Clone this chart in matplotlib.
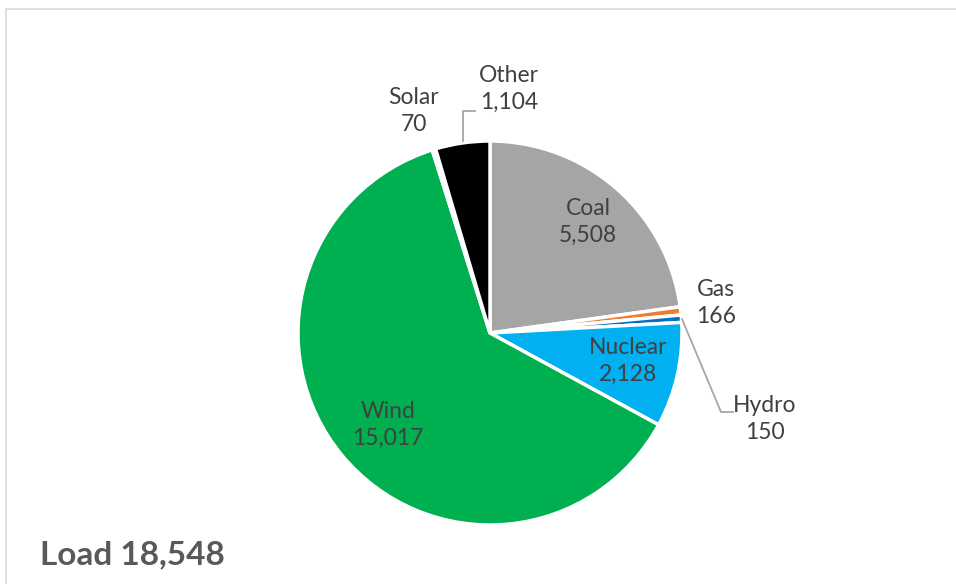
import matplotlib.pyplot as plt
from matplotlib.patches import Rectangle

# data
sources = ['Coal', 'Gas', 'Hydro', 'Nuclear', 'Wind', 'Solar', 'Other']
values = [5508, 166, 150, 2128, 15017, 70, 1104]
colors = ['#A5A5A5', '#ED7D31', '#0070C0', '#00B0F0', '#00B050', '#FFC000', '#000000']
load_total = 18548

# label anchor positions in pixel space (x, y from top)
label_pos = {
    'Coal': (588, 222),
    'Gas': (716, 303),
    'Hydro': (765, 419),
    'Nuclear': (628, 361),
    'Wind': (388, 425),
    'Solar': (414, 111),
    'Other': (509, 89),
}

W, H = 956, 584


def init_plotting():
    plt.rcParams['font.family'] = ['Lato', 'DejaVu Sans']
    plt.rcParams['font.size'] = 16


def plot_pie():
    fig = plt.figure(figsize=(W / 100, H / 100), dpi=100)
    ax = fig.add_axes([0, 0, 1, 1])

    # chart frame (partly cut off at right and bottom)
    ax.add_patch(Rectangle((6.5, -10), W + 20, H - 8.5 + 10, fill=False,
                           edgecolor='#D9D9D9', linewidth=1.2))

    cx, cy, r = 490, H - 333, 192
    ax.pie(values, colors=colors, startangle=90, counterclock=False,
           center=(cx, cy), radius=r, frame=True,
           wedgeprops=dict(edgecolor='white', linewidth=2.5))
    ax.set_xlim(0, W)
    ax.set_ylim(0, H)
    ax.set_aspect('equal')
    ax.axis('off')

    for name, val in zip(sources, values):
        x, y = label_pos[name]
        ax.text(x, H - y, f'{name}\n{val:,}', ha='center', va='center',
                color='#404040', fontsize=16.5, linespacing=1.35)

    # leader lines
    lc = '#A6A6A6'
    ax.plot([463, 463, 475], [H - 141, H - 111, H - 111], color=lc, lw=1.3)
    ax.plot([682, 721, 733], [H - 319, H - 412, H - 412], color=lc, lw=1.3)

    ax.text(40, H - 555, f'Load {load_total:,}', ha='left', va='center',
            color='#595959', fontsize=24, fontweight='bold')

    fig.savefig('out.png', dpi=100)


if __name__ == '__main__':
    init_plotting()
    plot_pie()
